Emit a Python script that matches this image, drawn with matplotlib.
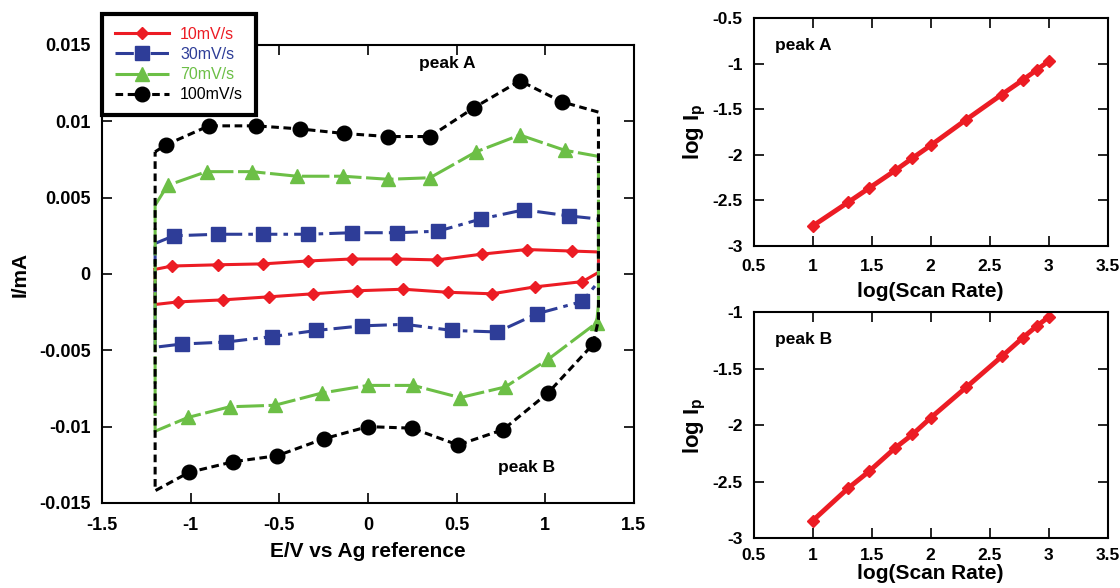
import matplotlib
matplotlib.use("Agg")
from matplotlib import pyplot as plt
import numpy as np

plt.rcParams['font.family'] = ['Liberation Sans', 'DejaVu Sans']
plt.rcParams['mathtext.default'] = 'regular'

# cyclic voltammograms, forward (upper) and reverse (lower) branches
# first/last entry of each branch = turning points (no marker)
labels = ["10mV/s", "30mV/s", "70mV/s", "100mV/s"]

e_up_10 = [-1.2, -1.105, -0.846, -0.59, -0.338, -0.09, 0.16, 0.39, 0.645, 0.895, 1.15, 1.3]
i_up_10 = [0.0003, 0.00052, 0.0006, 0.00066, 0.00085, 0.00098, 0.00098, 0.00092, 0.0013, 0.0016, 0.0015, 0.00144]
e_dn_10 = [1.3, 1.21, 0.94, 0.70, 0.45, 0.2, -0.06, -0.31, -0.56, -0.82, -1.07, -1.2]
i_dn_10 = [0.0001, -0.0005, -0.00085, -0.0013, -0.0012, -0.001, -0.0011, -0.0013, -0.0015, -0.0017, -0.00183, -0.002]

e_up_30 = [-1.2, -1.094, -0.846, -0.592, -0.338, -0.09, 0.164, 0.395, 0.637, 0.88, 1.134, 1.3]
i_up_30 = [0.0020, 0.0025, 0.0026, 0.0026, 0.0026, 0.0027, 0.0027, 0.0028, 0.0036, 0.0042, 0.0038, 0.0036]
e_dn_30 = [1.3, 1.21, 0.955, 0.73, 0.475, 0.21, -0.035, -0.29, -0.54, -0.80, -1.05, -1.2]
i_dn_30 = [-0.0005, -0.0018, -0.0026, -0.0038, -0.0037, -0.0033, -0.0034, -0.0037, -0.0041, -0.00446, -0.00459, -0.0048]

e_up_70 = [-1.2, -1.13, -0.91, -0.654, -0.40, -0.14, 0.115, 0.35, 0.61, 0.857, 1.11, 1.3]
i_up_70 = [0.0045, 0.0058, 0.0067, 0.0067, 0.0064, 0.0064, 0.0062, 0.0063, 0.0080, 0.0091, 0.0081, 0.0077]
e_dn_70 = [1.3, 1.29, 1.015, 0.775, 0.52, 0.255, 0.0, -0.26, -0.525, -0.78, -1.015, -1.2]
i_dn_70 = [-0.002, -0.0032, -0.0056, -0.0074, -0.0081, -0.0073, -0.0073, -0.0078, -0.0086, -0.0087, -0.0094, -0.0103]

e_up_100 = [-1.2, -1.14, -0.897, -0.632, -0.384, -0.135, 0.113, 0.35, 0.60, 0.857, 1.094, 1.3]
i_up_100 = [0.0080, 0.00845, 0.0097, 0.0097, 0.0095, 0.0092, 0.0090, 0.0090, 0.0109, 0.01265, 0.01127, 0.0106]
e_dn_100 = [1.3, 1.27, 1.015, 0.762, 0.508, 0.248, 0.0, -0.25, -0.51, -0.76, -1.01, -1.2]
i_dn_100 = [-0.003, -0.0046, -0.0078, -0.0102, -0.0112, -0.0101, -0.0100, -0.0108, -0.0119, -0.0123, -0.0130, -0.0142]

# peak current vs scan rate
log_rate = [1.0, 1.301, 1.477, 1.699, 1.845, 2.0, 2.301, 2.602, 2.778, 2.903, 3.0]
log_ip_a = [-2.78, -2.52, -2.366, -2.172, -2.037, -1.897, -1.615, -1.34, -1.183, -1.066, -0.974]
log_ip_b = [-2.846, -2.558, -2.41, -2.202, -2.083, -1.935, -1.665, -1.392, -1.228, -1.119, -1.042]

colors = ["#ec1c24", "#2e3d98", "#6cbf46", "black"]
markers = ["D", "s", "^", "o"]
msizes = [6.5, 10, 10, 10.5]
styles = ["-", (0, (6, 2, 1.5, 2)), (0, (9, 1.5)), (0, (2.5, 1.5))]

cv = [(e_up_10, i_up_10, e_dn_10, i_dn_10),
      (e_up_30, i_up_30, e_dn_30, i_dn_30),
      (e_up_70, i_up_70, e_dn_70, i_dn_70),
      (e_up_100, i_up_100, e_dn_100, i_dn_100)]

fig = plt.figure(figsize=(11.2, 5.88), dpi=100)
ax = fig.add_axes([0.091, 0.1446, 0.475, 0.779])

for k, (eu, iu, ed, idn) in enumerate(cv):
    e = eu + ed + [eu[0]]
    i = iu + idn + [iu[0]]
    n = len(eu)
    mk = list(range(1, n - 1)) + list(range(n + 1, 2 * n - 1))
    ax.plot(e, i, color=colors[k], linestyle=styles[k], lw=2.2,
            marker=markers[k], ms=msizes[k], markevery=mk, label=labels[k])

ax.set_xlim(-1.5, 1.5)
ax.set_ylim(-0.015, 0.015)
ax.set_xticks(np.arange(-1.5, 1.51, 0.5))
ax.set_xticklabels(["-1.5", "-1", "-0.5", "0", "0.5", "1", "1.5"])
ax.set_yticks(np.arange(-0.015, 0.0151, 0.005))
ax.set_yticklabels(["-0.015", "-0.01", "-0.005", "0", "0.005", "0.01", "0.015"])
ax.set_xlabel("E/V vs Ag reference", fontsize=15, fontweight='bold', labelpad=6)
ax.set_ylabel("I/mA", fontsize=15, fontweight='bold', labelpad=7)
ax.text(0.445, 0.0138, "peak A", fontsize=12.5, fontweight='bold', ha='center', va='center')
ax.text(0.897, -0.01265, "peak B", fontsize=12.5, fontweight='bold', ha='center', va='center')

leg = fig.legend(loc='upper left', bbox_to_anchor=(0.091, 0.976), borderaxespad=0,
                 fancybox=False, framealpha=1, edgecolor='black', fontsize=11.5,
                 handlelength=3.4, handletextpad=0.7, labelspacing=0.32, borderpad=0.8)
leg.get_frame().set_linewidth(3)
for t, c in zip(leg.get_texts(), colors):
    t.set_color(c)

# right panels
ax_a = fig.add_axes([0.673, 0.5816, 0.316, 0.388])
ax_b = fig.add_axes([0.673, 0.085, 0.316, 0.384])

for a, y, name in [(ax_a, log_ip_a, "peak A"), (ax_b, log_ip_b, "peak B")]:
    a.plot(log_rate, y, color=colors[0], lw=3.5, marker="D", ms=6)
    a.set_xlim(0.5, 3.5)
    a.set_xticks(np.arange(0.5, 3.51, 0.5))
    a.set_xticklabels(["0.5", "1", "1.5", "2", "2.5", "3", "3.5"])
    a.set_ylabel(r"log I$_p$", fontsize=16, fontweight='bold', labelpad=3)
    a.text(0.06, 0.88, name, transform=a.transAxes, fontsize=12.5, fontweight='bold',
           ha='left', va='center')

ax_a.set_xlabel("log(Scan Rate)", fontsize=15, fontweight='bold', labelpad=6)
ax_b.set_xlabel("log(Scan Rate)", fontsize=15, fontweight='bold', labelpad=1)

ax_a.set_ylim(-3, -0.5)
ax_a.set_yticks(np.arange(-3, -0.49, 0.5))
ax_a.set_yticklabels(["-3", "-2.5", "-2", "-1.5", "-1", "-0.5"])
ax_b.set_ylim(-3, -1)
ax_b.set_yticks(np.arange(-3, -0.99, 0.5))
ax_b.set_yticklabels(["-3", "-2.5", "-2", "-1.5", "-1"])

for a in (ax, ax_a, ax_b):
    a.tick_params(direction='in', top=True, right=True, length=7, width=1.2)
    for s in a.spines.values():
        s.set_linewidth(1.5)
ax.tick_params(axis='x', labelsize=13, pad=10)
ax.tick_params(axis='y', labelsize=13, pad=8)
ax_a.tick_params(axis='x', labelsize=12.5, pad=9)
ax_b.tick_params(axis='x', labelsize=12.5, pad=7)
for a in (ax_a, ax_b):
    a.tick_params(axis='y', labelsize=12.5, pad=8)
for a in (ax, ax_a, ax_b):
    for lab in a.get_xticklabels() + a.get_yticklabels():
        lab.set_fontweight('bold')

fig.savefig("out.png", dpi=100)
